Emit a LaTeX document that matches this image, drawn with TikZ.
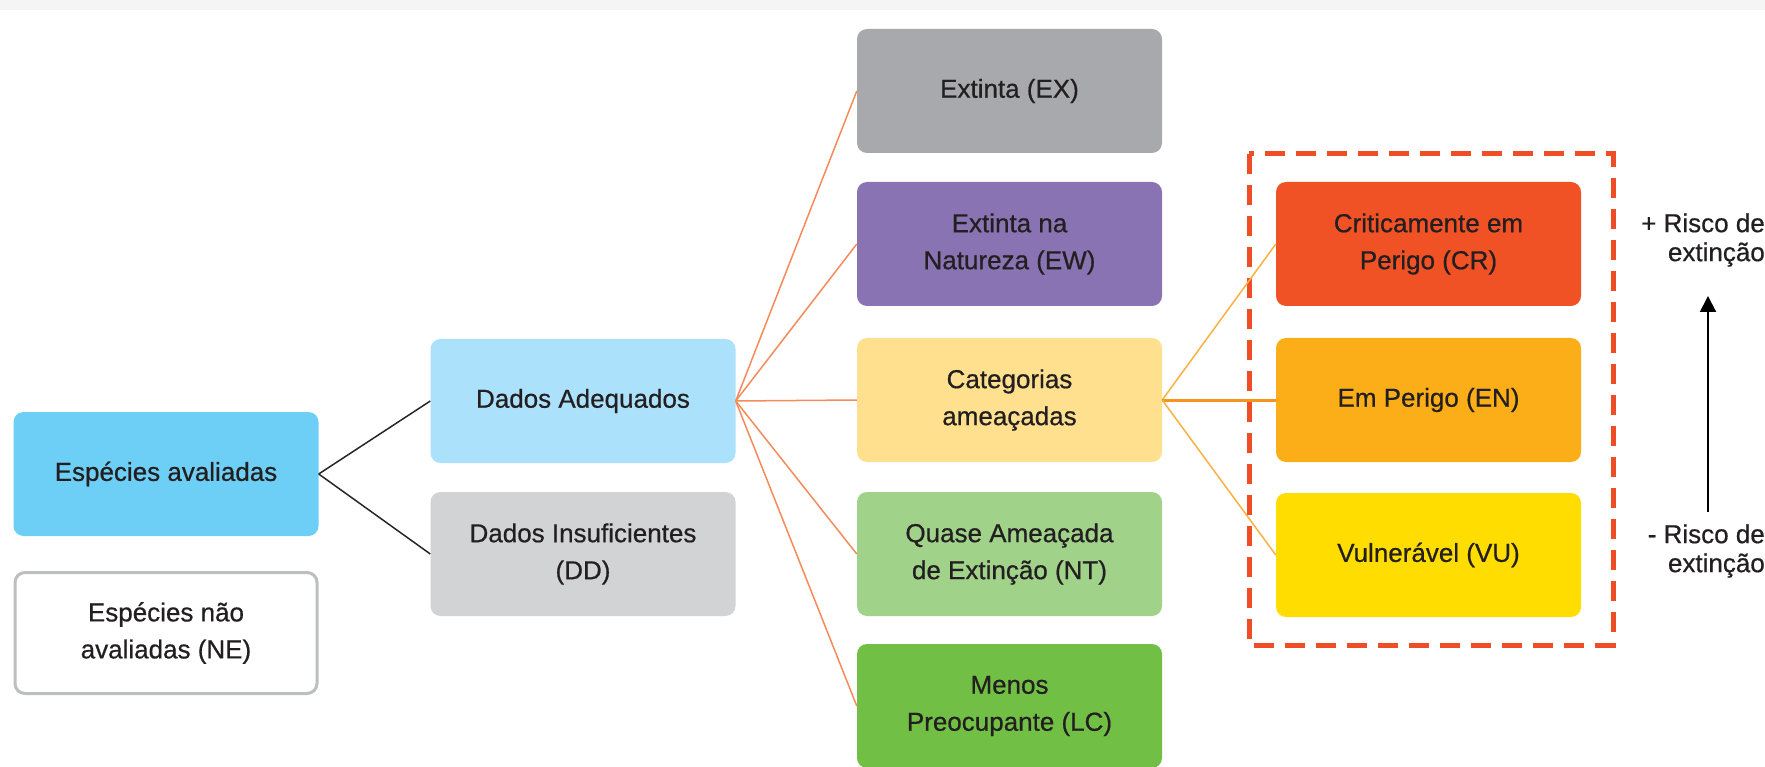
\documentclass[tikz,border=0pt]{standalone}
\usepackage{fontspec}
\setmainfont[FakeBold=0.6]{Liberation Sans}
\usetikzlibrary{arrows.meta}
\definecolor{txt}{HTML}{231F20}
\definecolor{band}{HTML}{F5F5F5}
\definecolor{cSA}{HTML}{6DCFF6}
\definecolor{cDA}{HTML}{ABE1FA}
\definecolor{cDD}{HTML}{D1D3D4}
\definecolor{cNEb}{HTML}{BCBEC0}
\definecolor{cEX}{HTML}{A7A9AC}
\definecolor{cEW}{HTML}{8973B3}
\definecolor{cCA}{HTML}{FFE08F}
\definecolor{cNT}{HTML}{A0D28A}
\definecolor{cLC}{HTML}{71BF44}
\definecolor{cCR}{HTML}{F05125}
\definecolor{cEN}{HTML}{FBAE17}
\definecolor{cVU}{HTML}{FFDD00}
\definecolor{cDash}{HTML}{EE4D26}
\definecolor{cLineA}{HTML}{F58A5B}
\definecolor{cLineB}{HTML}{FBB040}
\definecolor{cLineC}{HTML}{F7941D}
\begin{document}
\begin{tikzpicture}[x=1pt,y=-1pt,
  box/.style={rectangle, rounded corners=10pt, minimum width=305pt, minimum height=124pt,
    inner sep=0pt, align=center, text=txt, font=\fontsize{26}{37}\selectfont},
  blk/.style={draw=black!85, line width=1.5pt},
  orgA/.style={draw=cLineA, line width=1.5pt},
  orgB/.style={draw=cLineB, line width=1.5pt},
  orgC/.style={draw=cLineC, line width=3pt},
  dashbox/.style={draw=cDash, line width=5pt, dash pattern=on 20pt off 11pt},
  risk/.style={align=right, anchor=east, inner sep=0pt, text=txt, font=\fontsize{26}{29}\selectfont}
]
\useasboundingbox (0,0) rectangle (1765,767);
\fill[band] (0,0) rectangle (1765,10);

\node[box, fill=cSA] (SA) at (166,474) {Espécies avaliadas};
\node[box, fill=white, draw=cNEb, line width=3pt, minimum width=302pt, minimum height=121pt] (NE) at (166,633) {Espécies não\\avaliadas (NE)};
\node[box, fill=cDA] (DA) at (583,401) {Dados Adequados};
\node[box, fill=cDD] (DD) at (583,554) {Dados Insuficientes\\(DD)};

\node[box, fill=cEX] (EX) at (1009.5,91) {Extinta (EX)};
\node[box, fill=cEW] (EW) at (1009.5,244) {Extinta na\\Natureza (EW)};
\node[box, fill=cCA] (CA) at (1009.5,400) {Categorias\\ameaçadas};
\node[box, fill=cNT] (NT) at (1009.5,554) {Quase Ameaçada\\de Extinção (NT)};
\node[box, fill=cLC] (LC) at (1009.5,706) {Menos\\Preocupante (LC)};

\draw[dashbox] (1249,154) rectangle (1613,645);

\node[box, fill=cCR] (CR) at (1428.5,244) {Criticamente em\\Perigo (CR)};
\node[box, fill=cEN] (EN) at (1428.5,400) {Em Perigo (EN)};
\node[box, fill=cVU] (VU) at (1428.5,555) {Vulnerável (VU)};

\draw[blk] (SA.east) -- (DA.west);
\draw[blk] (SA.east) -- (DD.west);

\foreach \t in {EX,EW,CA,NT,LC} \draw[orgA] (DA.east) -- (\t.west);

\draw[orgB] (CA.east) -- (CR.west);
\draw[orgC] (CA.east) -- (EN.west);
\draw[orgB] (CA.east) -- (VU.west);

\node[risk] (up) at (1765,240) {+ Risco de\\extinção};
\node[risk] (down) at (1765,551) {- Risco de\\extinção};
\coordinate (arB) at (1708,512);
\coordinate (arT) at (1708,296);
\draw[line width=2pt, -{Triangle[length=16pt,width=16pt]}] (arB) -- (arT);
\end{tikzpicture}
\end{document}
